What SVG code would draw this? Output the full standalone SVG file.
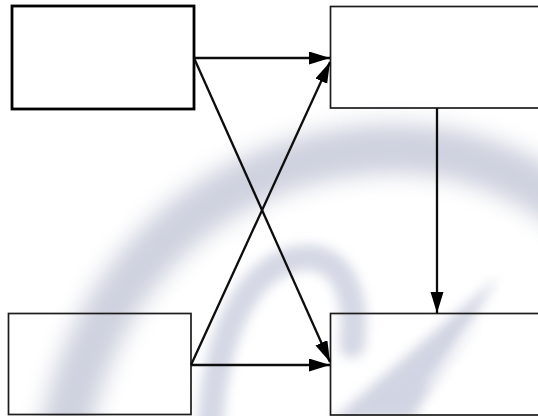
<svg xmlns="http://www.w3.org/2000/svg" width="538" height="416" viewBox="0 0 538 416">
  <defs>
    <filter id="soft" x="-30%" y="-30%" width="160%" height="160%">
      <feGaussianBlur stdDeviation="11"/>
    </filter>
    <filter id="softer" x="-30%" y="-30%" width="160%" height="160%">
      <feGaussianBlur stdDeviation="6"/>
    </filter>
    <marker id="arrow" markerUnits="userSpaceOnUse" markerWidth="24" markerHeight="14" refX="21" refY="6.5" orient="auto">
      <path d="M0,0 L21,6.5 L0,13 Z" fill="#000"/>
    </marker>
  </defs>
  <style>
    .box { fill: none; stroke: #1c1c1c; stroke-width: 1.7; }
    .box.heavy { stroke: #000; stroke-width: 2.8; }
    .link { fill: none; stroke: #0d0d0d; stroke-width: 2.3; marker-end: url(#arrow); }
    .wm { fill: none; stroke-linecap: round; }
  </style>

  <rect width="538" height="416" fill="#fff"/>

  <!-- faded backdrop emblem -->
  <g id="backdrop" opacity="0.85">
    <path class="wm" d="M65,430 C92,300 170,205 290,165 C390,135 480,145 565,205" stroke="#c6cad9" stroke-width="50" filter="url(#soft)"/>
    <path class="wm" d="M210,430 C215,330 250,265 300,258 C345,252 358,300 352,345" stroke="#cdd1e0" stroke-width="26" filter="url(#softer)"/>
    <polygon points="498,277 412,420 332,420" fill="#c9cddd" filter="url(#softer)"/>
    <path class="wm" d="M472,330 L430,385" stroke="#f2f3f8" stroke-width="6" filter="url(#softer)"/>
  </g>

  <g id="node-top-left">
    <rect class="box heavy" x="12" y="6" width="182" height="103"/>
  </g>
  <g id="node-top-right">
    <rect class="box" x="330.5" y="6.5" width="220" height="101.5"/>
  </g>
  <g id="node-bottom-left">
    <rect class="box" x="8.5" y="313.5" width="182.5" height="101"/>
  </g>
  <g id="node-bottom-right">
    <rect class="box" x="330.5" y="313.5" width="220" height="101.5"/>
  </g>

  <g id="connectors">
    <line class="link" x1="194" y1="58" x2="330" y2="58"/>
    <line class="link" x1="194" y1="58" x2="330" y2="362"/>
    <line class="link" x1="191" y1="365" x2="330" y2="62"/>
    <line class="link" x1="191" y1="365" x2="330" y2="365"/>
    <line class="link" x1="437" y1="108" x2="437" y2="313" stroke="#2a2a2a"/>
  </g>
</svg>
